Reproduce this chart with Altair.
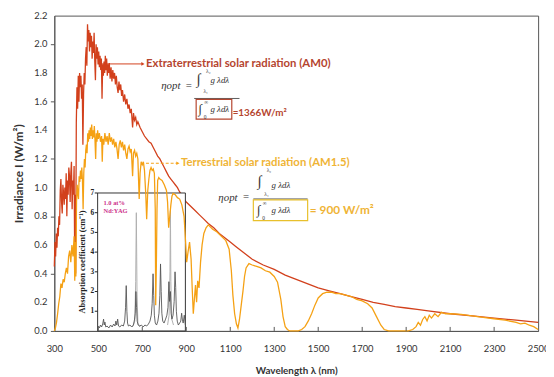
import altair as alt
import pandas as pd

# ---------------- data ----------------
am0_wl = [300, 303, 306, 309, 312, 315, 318, 321, 324, 327, 330, 333, 336, 339, 342, 345, 348, 351, 354, 357,
          360, 363, 366, 369, 372, 375, 378, 381, 384, 387, 390, 393, 395, 397, 400, 403, 406, 409, 412, 415,
          418, 421, 424, 427, 430, 433, 436, 439, 442, 445, 448, 451, 454, 457, 460, 463, 466, 469, 472, 475,
          478, 481, 484, 487, 490, 493, 496, 499, 502, 505, 508, 511, 514, 517, 520, 523, 526, 529, 532, 535,
          538, 541, 544, 547, 550, 554, 558, 562, 566, 570, 574, 578, 582, 586, 590, 594, 598, 602, 606, 610,
          615, 620, 625, 630, 635, 640, 645, 650, 656, 660, 665, 670, 675, 680, 690, 700, 710, 720, 730, 740,
          750, 760, 770, 780, 790, 800, 810, 820, 830, 840, 850, 860, 870, 880, 890, 900, 920, 940, 960, 980,
          1000, 1025, 1050, 1075, 1100, 1125, 1150, 1175, 1200, 1250, 1300, 1350, 1400, 1450, 1500, 1550, 1600,
          1650, 1700, 1750, 1800, 1850, 1900, 1950, 2000, 2100, 2200, 2300, 2400, 2500]
am0_irr = [0.45, 0.62, 0.52, 0.68, 0.58, 0.72, 0.66, 0.80, 0.74, 0.98, 1.06, 0.90, 0.82, 1.02, 0.96, 0.88, 1.00, 0.92, 1.10, 0.80,
           1.05, 0.95, 1.14, 1.08, 0.90, 1.10, 1.18, 0.85, 1.05, 0.95, 1.15, 0.45, 0.95, 0.40, 1.45, 1.70, 1.55, 1.78, 1.60, 1.80,
           1.70, 1.78, 1.62, 1.72, 1.30, 1.65, 1.80, 1.72, 1.90, 1.98, 1.85, 2.14, 2.02, 2.10, 1.95, 2.08, 1.98, 2.06, 1.90, 2.02,
           1.94, 2.08, 1.88, 1.75, 2.00, 1.90, 1.98, 1.86, 1.95, 1.84, 1.92, 1.82, 1.90, 1.62, 1.86, 1.78, 1.88, 1.80, 1.92, 1.82,
           1.90, 1.78, 1.86, 1.80, 1.87, 1.76, 1.84, 1.74, 1.82, 1.76, 1.80, 1.72, 1.78, 1.70, 1.66, 1.74, 1.68, 1.72, 1.64, 1.68,
           1.60, 1.65, 1.58, 1.62, 1.55, 1.58, 1.52, 1.55, 1.42, 1.52, 1.47, 1.49, 1.44, 1.46, 1.42, 1.39, 1.36, 1.34, 1.32, 1.31,
           1.28, 1.25, 1.22, 1.20, 1.17, 1.14, 1.11, 1.08, 1.06, 1.04, 1.02, 1.00, 0.97, 0.95, 0.92, 0.90, 0.87, 0.84, 0.81, 0.78,
           0.75, 0.72, 0.68, 0.65, 0.62, 0.59, 0.56, 0.53, 0.50, 0.46, 0.43, 0.39, 0.36, 0.33, 0.30, 0.28, 0.26,
           0.24, 0.22, 0.20, 0.185, 0.17, 0.16, 0.15, 0.14, 0.12, 0.105, 0.09, 0.075, 0.06]

am15_wl = [300, 305, 310, 315, 320, 325, 330, 335, 340, 345, 350, 355, 360, 365, 370, 375, 380, 385, 390, 393,
           396, 398, 401, 404, 407, 410, 413, 416, 419, 422, 425, 428, 431, 434, 437, 440, 443, 446, 449, 452,
           455, 458, 461, 464, 467, 470, 473, 476, 479, 482, 485, 488, 491, 494, 497, 500, 505, 510, 515, 518,
           521, 525, 530, 535, 540, 545, 550, 555, 560, 565, 570, 575, 580, 585, 590, 595, 600, 605, 610, 615,
           620, 625, 630, 635, 640, 645, 650, 656, 660, 665, 670, 675, 680, 686, 690, 695, 700, 705, 710, 716,
           720, 725, 730, 735, 740, 745, 750, 755, 759, 761, 764, 767, 770, 775, 780, 790, 800, 810, 815, 820,
           825, 830, 835, 840, 850, 860, 870, 880, 890, 897, 902, 908, 915, 922, 927, 932, 937, 942, 947, 952,
           958, 965, 972, 980, 990, 1000, 1020, 1040, 1060, 1080, 1095, 1105, 1112, 1120, 1128, 1135, 1142, 1150,
           1158, 1165, 1172, 1185, 1200, 1220, 1240, 1260, 1280, 1300, 1315, 1330, 1340, 1350, 1360, 1370, 1390,
           1410, 1425, 1440, 1455, 1470, 1485, 1500, 1520, 1540, 1560, 1580, 1600, 1625, 1650, 1675, 1700, 1725,
           1745, 1765, 1785, 1800, 1820, 1850, 1880, 1910, 1930, 1945, 1955, 1965, 1975, 1985, 1995, 2005, 2015,
           2030, 2045, 2060, 2080, 2100, 2150, 2200, 2250, 2300, 2350, 2400, 2420, 2440, 2460, 2480, 2500]
am15_irr = [0.00, 0.02, 0.06, 0.12, 0.19, 0.24, 0.33, 0.30, 0.36, 0.34, 0.40, 0.44, 0.40, 0.52, 0.56, 0.48, 0.60, 0.52, 0.66, 0.35,
            0.62, 0.38, 0.90, 1.02, 0.96, 0.92, 1.08, 1.04, 1.12, 1.06, 1.14, 1.05, 0.85, 1.10, 1.20, 1.14, 1.26, 1.30, 1.24, 1.38,
            1.32, 1.40, 1.34, 1.42, 1.36, 1.44, 1.34, 1.40, 1.35, 1.43, 1.33, 1.20, 1.38, 1.32, 1.40, 1.34, 1.38, 1.32, 1.36, 1.18,
            1.34, 1.30, 1.38, 1.32, 1.36, 1.30, 1.38, 1.32, 1.35, 1.30, 1.34, 1.28, 1.32, 1.27, 1.20, 1.30, 1.33, 1.28, 1.32, 1.26,
            1.30, 1.24, 1.20, 1.27, 1.29, 1.25, 1.27, 1.08, 1.24, 1.26, 1.22, 1.24, 1.20, 0.92, 1.10, 1.18, 1.16, 1.18, 1.12, 0.95,
            0.78, 0.98, 1.06, 1.12, 1.14, 1.12, 1.13, 1.10, 0.85, 0.18, 0.45, 0.85, 1.05, 1.07, 1.06, 1.05, 1.02, 0.98, 0.90, 0.72,
            0.80, 0.88, 0.94, 0.96, 0.95, 0.93, 0.92, 0.88, 0.80, 0.62, 0.48, 0.55, 0.62, 0.50, 0.30, 0.12, 0.22, 0.32, 0.20, 0.35,
            0.30, 0.48, 0.60, 0.68, 0.72, 0.74, 0.71, 0.69, 0.66, 0.63, 0.57, 0.42, 0.25, 0.12, 0.05, 0.02, 0.08, 0.18,
            0.28, 0.38, 0.44, 0.47, 0.46, 0.45, 0.44, 0.42, 0.41, 0.38, 0.34, 0.22, 0.10, 0.03, 0.01, 0.00, 0.00,
            0.00, 0.01, 0.03, 0.07, 0.12, 0.18, 0.23, 0.26, 0.27, 0.27, 0.26, 0.26, 0.25, 0.24, 0.22, 0.21, 0.19,
            0.16, 0.10, 0.04, 0.01, 0.00, 0.00, 0.00, 0.00, 0.01, 0.03, 0.06, 0.04, 0.08, 0.10, 0.07, 0.11, 0.09,
            0.12, 0.10, 0.13, 0.12, 0.12, 0.115, 0.105, 0.095, 0.085, 0.075, 0.06, 0.05, 0.055, 0.04, 0.03, 0.01]

# Nd:YAG absorption (inset), absorption coefficient in cm^-1
ndyag_wl = [500, 505, 510, 515, 520, 524, 527, 530, 534, 540, 548, 556, 563, 570, 576, 580, 584, 588, 592, 598,
            606, 614, 620, 624, 627, 630, 633, 637, 644, 652, 660, 665, 668, 671, 674, 677, 681, 688, 696, 704,
            712, 720, 728, 735, 741, 745, 749, 752, 755, 759, 765, 771, 776, 780, 783, 786, 789, 793, 799, 806,
            812, 817, 821, 824, 828, 831, 835, 840, 845, 849, 852, 855, 859, 864, 870, 875, 879, 882, 886, 891, 896]
ndyag_abs = [0.25, 0.15, 0.30, 0.20, 0.35, 0.60, 0.30, 0.45, 0.20, 0.25, 0.15, 0.30, 0.20, 0.35, 0.25, 0.50, 0.30, 0.60, 0.25, 0.20,
             0.30, 0.25, 0.50, 1.20, 2.30, 1.00, 0.40, 0.25, 0.30, 0.20, 0.30, 0.60, 0.90, 2.00, 1.20, 0.50, 0.30, 0.25, 0.30, 0.20,
             0.30, 0.25, 0.35, 0.50, 0.80, 1.40, 2.90, 1.80, 0.80, 0.40, 0.30, 0.50, 0.90, 1.80, 3.40, 2.00, 0.90, 0.50, 0.40, 0.60,
             0.80, 1.20, 2.50, 1.50, 2.00, 0.90, 0.60, 0.80, 1.50, 3.00, 2.20, 1.00, 0.50, 0.30, 0.40, 0.50, 0.90, 0.60, 0.40, 0.80, 0.30]
ndyag_peak_wl = [655, 666, 670, 673, 676, 680, 690, 815, 822, 826, 828, 830, 834, 842]
ndyag_peak_abs = [0.2, 0.5, 2.5, 6.0, 2.0, 0.4, 0.2, 0.3, 0.8, 3.0, 6.1, 2.5, 0.6, 0.3]
ndyag_peak_grp = ["a", "a", "a", "a", "a", "a", "a", "b", "b", "b", "b", "b", "b", "b"]

x_ticks = [300, 500, 700, 900, 1100, 1300, 1500, 1700, 1900, 2100, 2300, 2500]
x_inner_ticks = [500, 700, 900, 1100, 1300, 1500, 1700, 1900, 2100, 2300]
y_ticks = [0.0, 0.2, 0.4, 0.6, 0.8, 1.0, 1.2, 1.4, 1.6, 1.8, 2.0, 2.2]
inset_ticks = [1, 2, 3, 4, 5, 6, 7]

# ---------------- styles ----------------
RED = "#d2401c"
ORANGE = "#f5a114"
AM0_TXT = "#b5452f"
AM15_TXT = "#efb436"
AXIS = "#555555"
SANS = "Lato"
SERIF = "Liberation Serif"

# inset placement: wavelength span and the irradiance that its top (7 cm^-1) reaches
INSET_X = [497, 896]
INSET_TOP = 0.9625
K = INSET_TOP / 7.0

one = pd.DataFrame({"k": [0]})
X_DOM = [300, 2500]

am0 = pd.DataFrame({"wl": am0_wl, "irr": am0_irr})
am15 = pd.DataFrame({"wl": am15_wl, "irr": am15_irr})
nd = pd.DataFrame({"wl": ndyag_wl, "a": ndyag_abs})
ndp = pd.DataFrame({"wl": ndyag_peak_wl, "a": ndyag_peak_abs, "g": ndyag_peak_grp})
ticks_df = pd.DataFrame({"wl": x_inner_ticks})
yt_df = pd.DataFrame({"v": y_ticks})
ins_ticks_df = pd.DataFrame({"t": inset_ticks})

xs = alt.Scale(domain=X_DOM, nice=False, zero=False)
ys = alt.Scale(domain=[0, 2.2], nice=False, zero=False)

x_axis = alt.Axis(values=x_ticks, title="Wavelength λ (nm)", format="d", tickSize=0, labelPadding=13,
                  labelFlush=False, labelOverlap=False,
                  labelFont=SANS, labelFontSize=9.5, labelColor="#333", titleFont=SANS, titleFontSize=10,
                  titleFontWeight="bold", titleColor="#333", titlePadding=13, domainColor=AXIS, grid=False)
# y tick labels are drawn as text marks below (so none are culled); the axis keeps ticks and title
y_axis = alt.Axis(values=y_ticks, labels=False, title="Irradiance I (W/m²)", tickSize=4, tickColor=AXIS,
                  titleFont=SANS, titleFontSize=12, titleFontWeight="bold", titleColor="#333",
                  titlePadding=25, domainColor=AXIS, grid=False)


def txt(text, wl, val, size, color, font=SANS, weight="normal", style="normal", align="left", angle=0):
    return alt.Chart(one).mark_text(text=text, fontSize=size, color=color, font=font, fontWeight=weight,
                                    fontStyle=style, align=align, baseline="middle", angle=angle).encode(
        x=alt.datum(wl), y=alt.datum(val))


def hline(w1, w2, val, color, width=1.0, dash=None):
    kw = dict(color=color, strokeWidth=width)
    if dash:
        kw["strokeDash"] = dash
    return alt.Chart(one).mark_rule(**kw).encode(x=alt.datum(w1), x2=alt.datum(w2), y=alt.datum(val))


def box(w1, w2, v1, v2, color, fill="transparent", width=1.2):
    return alt.Chart(one).mark_rect(fill=fill, stroke=color, strokeWidth=width).encode(
        x=alt.datum(w1), x2=alt.datum(w2), y=alt.datum(v1), y2=alt.datum(v2))


def arrowhead(wl, val, color):
    return alt.Chart(one).mark_point(shape="triangle-right", filled=True, size=14, color=color, opacity=1).encode(
        x=alt.datum(wl), y=alt.datum(val))


# y tick labels (main axis)
y_labels = alt.Chart(yt_df).mark_text(font=SANS, fontSize=9.5, color="#333", align="right",
                                      baseline="middle", dx=-7).encode(
    x=alt.datum(X_DOM[0]), y="v:Q", text=alt.Text("v:Q", format=".1f"))

# ---------------- inset (drawn first, under the spectra) ----------------
ins_box = box(INSET_X[0], INSET_X[1], 0, INSET_TOP, "#333", fill="white", width=1)
ins_peaks = alt.Chart(ndp).transform_calculate(y=f"datum.a * {K}").mark_line(
    color="#b0b0b0", strokeWidth=1).encode(x="wl:Q", y="y:Q", detail="g:N")
ins_line = alt.Chart(nd).transform_calculate(y=f"datum.a * {K}").mark_line(
    color="#555", strokeWidth=0.9).encode(x="wl:Q", y="y:Q")
ins_tick_marks = alt.Chart(ins_ticks_df).transform_calculate(y=f"datum.t * {K}").mark_rule(
    color="#222", strokeWidth=1).encode(x=alt.datum(INSET_X[0] - 13), x2=alt.datum(INSET_X[0]), y="y:Q")
ins_tick_labels = alt.Chart(ins_ticks_df).transform_calculate(y=f"datum.t * {K}").mark_text(
    font=SERIF, fontSize=7.5, fontWeight="bold", color="#222", align="right", baseline="middle").encode(
    x=alt.datum(INSET_X[0] - 16), y="y:Q", text="t:Q")
ins_title = txt("Absorption coefficient (cm⁻¹)", 426, 3.5 * K, 8.5, "#222", font=SERIF, weight="bold",
                align="center", angle=270)
ins_l1 = txt("1.0 at%", 524, 6.5 * K, 6.5, "#cc2f8a", font=SERIF, weight="bold")
ins_l2 = txt("Nd:YAG", 524, 6.1 * K, 6.5, "#cc2f8a", font=SERIF, weight="bold")

# ---------------- main spectra ----------------
line_am0 = alt.Chart(am0).mark_line(color=RED, strokeWidth=1.3).encode(
    x=alt.X("wl:Q", scale=xs, axis=x_axis), y=alt.Y("irr:Q", scale=ys, axis=y_axis))
line_am15 = alt.Chart(am15).mark_line(color=ORANGE, strokeWidth=1.3).encode(x="wl:Q", y="irr:Q")
inner_ticks = alt.Chart(ticks_df).mark_rule(color=AXIS, strokeWidth=1).encode(
    x="wl:Q", y=alt.datum(0), y2=alt.datum(0.028))

F = "#333"
annot = [
    hline(515, 700, 1.863, RED, 1.0),
    arrowhead(703, 1.863, RED),
    txt("Extraterrestrial solar radiation (AM0)", 717, 1.863, 11.5, AM0_TXT, weight="bold"),
    hline(717, 858, 1.17, ORANGE, 1.0, [3, 2]),
    arrowhead(862, 1.17, ORANGE),
    txt("Terrestrial solar radiation (AM1.5)", 876, 1.17, 11.5, AM15_TXT, weight="bold"),
    # formula 1 (AM0)
    txt("ηopt", 786, 1.712, 11, F, font=SERIF, style="italic"),
    txt("=", 912, 1.712, 11, F, font=SERIF, align="center"),
    txt("∫", 957, 1.76, 15, F, font=SERIF, align="center"),
    txt("λ₂", 990, 1.812, 5.5, F, font=SERIF),
    txt("λ₁", 978, 1.676, 5.5, F, font=SERIF),
    txt("g λdλ", 1010, 1.753, 9, F, font=SERIF, style="italic"),
    hline(936, 1142, 1.622, F, 0.8),
    box(945, 1107, 1.616, 1.478, AM0_TXT),
    txt("∫", 964, 1.547, 13, F, font=SERIF, align="center"),
    txt("∞", 982, 1.598, 5.5, F, font=SERIF),
    txt("0", 980, 1.494, 5.5, F, font=SERIF),
    txt("g λdλ", 1010, 1.547, 9, F, font=SERIF, style="italic"),
    txt("=1366W/m²", 1111, 1.519, 10, AM0_TXT, weight="bold"),
    # formula 2 (AM1.5)
    txt("ηopt", 1046, 0.928, 11, F, font=SERIF, style="italic"),
    txt("=", 1172, 0.935, 11, F, font=SERIF, align="center"),
    txt("∫", 1234, 1.045, 15, F, font=SERIF, align="center"),
    txt("λ₂", 1266, 1.125, 5.5, F, font=SERIF),
    txt("λ₁", 1255, 0.958, 5.5, F, font=SERIF),
    txt("g λdλ", 1288, 1.02, 9, F, font=SERIF, style="italic"),
    hline(1205, 1452, 0.921, F, 0.8),
    box(1205, 1452, 0.914, 0.770, "#e8c02c"),
    txt("∫", 1230, 0.842, 13, F, font=SERIF, align="center"),
    txt("∞", 1248, 0.893, 5.5, F, font=SERIF),
    txt("0", 1246, 0.789, 5.5, F, font=SERIF),
    txt("g λdλ", 1288, 0.842, 9, F, font=SERIF, style="italic"),
    txt("= 900 W/m²", 1462, 0.846, 12, AM15_TXT, weight="bold"),
]

chart = alt.layer(
    line_am0,  # first layer carries the axes
    y_labels,
    ins_box, ins_peaks, ins_line, ins_tick_marks, ins_tick_labels, ins_title, ins_l1, ins_l2,
    line_am15, inner_ticks, *annot,
).properties(
    width=491, height=320,
    autosize=alt.AutoSizeParams(type="none"),
    padding={"left": 47, "top": 5, "right": 8, "bottom": 44},
    background="white",
).configure_view(stroke=AXIS, strokeWidth=1, clip=False)

chart.save("out.html", embed_options={"renderer": "svg", "actions": False})
